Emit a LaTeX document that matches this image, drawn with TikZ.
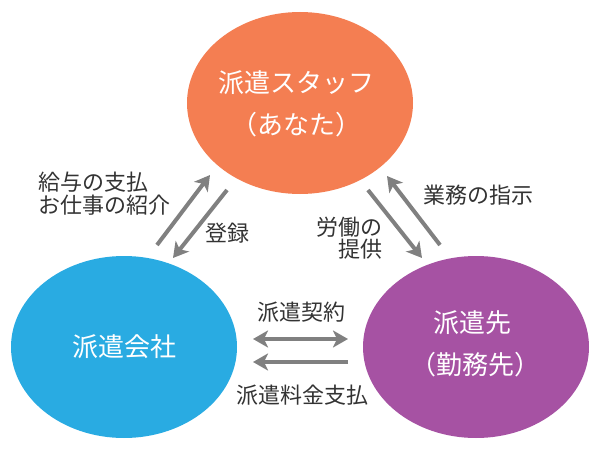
\documentclass[tikz,border=0pt]{standalone}
\usepackage{fontspec}
\setmainfont{Noto Sans CJK JP}
\usetikzlibrary{shapes.geometric,arrows.meta}
\definecolor{corange}{HTML}{F47E52}
\definecolor{cblue}{HTML}{29ABE2}
\definecolor{cpurple}{HTML}{A652A3}
\definecolor{carrow}{HTML}{808080}
\definecolor{ctext}{HTML}{333333}
\tikzset{
  blob/.style={ellipse, minimum width=226pt, minimum height=182pt, inner sep=0pt},
  ctxt/.style={text=white, font=\fontsize{26}{30}\selectfont, inner sep=0pt},
  lbl/.style={text=ctext, font=\fontsize{22}{24}\selectfont, inner sep=0pt},
  flow/.style={draw=carrow, line width=4pt, -{Stealth[length=15pt,width=17pt,inset=4pt]}},
  bflow/.style={draw=carrow, line width=4pt, {Stealth[length=15pt,width=17pt,inset=4pt]}-{Stealth[length=15pt,width=17pt,inset=4pt]}}
}
\begin{document}
\begin{tikzpicture}[x=1pt,y=-1pt]
\useasboundingbox (0,0) rectangle (600,460);
\node[blob, fill=corange] (staff) at (300,103) {};
\node[blob, fill=cblue] (agency) at (124,347) {};
\node[blob, fill=cpurple] (client) at (476,347) {};
\node[ctxt] (staffA) at (296,83) {派遣スタッフ};
\node[ctxt] (staffB) at (296,125) {（あなた）};
\node[ctxt] (agencyA) at (124,347) {派遣会社};
\node[ctxt] (clientA) at (472,323) {派遣先};
\node[ctxt] (clientB) at (475,365) {（勤務先）};
% labels
\node[lbl, anchor=west] (l1) at (38,182) {給与の支払};
\node[lbl, anchor=west] (l2) at (38,205) {お仕事の紹介};
\node[lbl] (l3) at (227,233) {登録};
\node[lbl, anchor=east] (l4) at (383,227) {労働の};
\node[lbl, anchor=east] (l5) at (383,249) {提供};
\node[lbl] (l6) at (478,195) {業務の指示};
\node[lbl] (l7) at (301,312) {派遣契約};
\node[lbl] (l8) at (302,395) {派遣料金支払};
% arrow endpoints
\coordinate (a1s) at (157,245);
\coordinate (a1e) at (210,175);
\coordinate (a2s) at (227,190);
\coordinate (a2e) at (173,258);
\coordinate (a3s) at (368,190);
\coordinate (a3e) at (422,258);
\coordinate (a4s) at (440,245);
\coordinate (a4e) at (387,176);
\coordinate (a5s) at (253,339);
\coordinate (a5e) at (348,339);
\coordinate (a6s) at (348,362);
\coordinate (a6e) at (253,362);
\draw[flow] (a1s) -- (a1e);
\draw[flow] (a2s) -- (a2e);
\draw[flow] (a3s) -- (a3e);
\draw[flow] (a4s) -- (a4e);
\draw[bflow] (a5s) -- (a5e);
\draw[flow] (a6s) -- (a6e);
\end{tikzpicture}
\end{document}
